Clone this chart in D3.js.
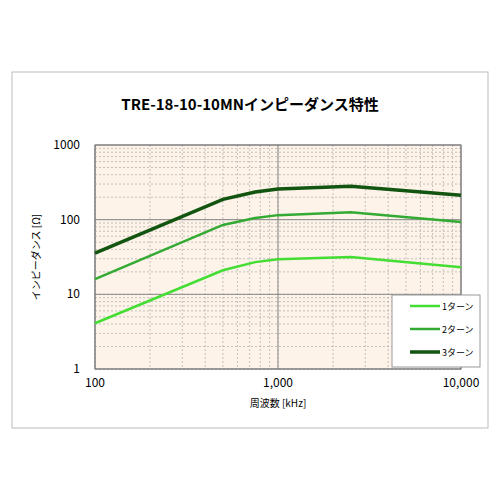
<!doctype html>
<html>
<head>
<meta charset="utf-8">
<script src="https://cdn.jsdelivr.net/npm/d3@7"></script>
<style>
  body { margin: 0; background: #fff; font-family: "Noto Sans CJK JP", "Noto Sans", sans-serif; }
</style>
</head>
<body>
<svg id="chart" width="500" height="500"></svg>
<script>
var freqs = [100, 500, 750, 1000, 2500, 10000];
var turn1 = [4.1, 21, 27, 29.5, 31.6, 23];
var turn2 = [16, 85, 105, 115, 126, 93];
var turn3 = [35.6, 187, 235, 257, 280, 213];
var seriesNames = ["1ターン", "2ターン", "3ターン"];
var seriesColors = ["#44dd33", "#33aa33", "#115511"];
var seriesWidths = [2.5, 2.5, 3.5];
var xTicks = [100, 1000, 10000];
var yTicks = [1, 10, 100, 1000];

var svg = d3.select("#chart");
svg.append("rect").attr("x", 12).attr("y", 72).attr("width", 476).attr("height", 356)
  .attr("fill", "#fff").attr("stroke", "#bbb");

var x = d3.scaleLog().domain([100, 10000]).range([95, 461]);
var y = d3.scaleLog().domain([1, 1000]).range([369, 145]);

svg.append("rect").attr("x", 95).attr("y", 145).attr("width", 366).attr("height", 224)
  .attr("fill", "#fdf3e8");

// minor grid
var g = svg.append("g");
function minors(lo, hi) {
  var out = [];
  for (var d = lo; d < hi; d *= 10)
    for (var k = 1; k < 10; k++) out.push(d * k);
  return out;
}
minors(100, 10000).forEach(function(v) {
  g.append("line").attr("x1", x(v)).attr("x2", x(v)).attr("y1", 145).attr("y2", 369)
    .attr("stroke", "#aaa").attr("stroke-width", 0.7).attr("stroke-dasharray", "2,2");
});
minors(1, 1000).forEach(function(v) {
  for (var j = 1; j < 10; j += 1) {
    var vv = v + v * 0.1 * 0; // minor per integer step
  }
  g.append("line").attr("x1", 95).attr("x2", 461).attr("y1", y(v)).attr("y2", y(v))
    .attr("stroke", "#aaa").attr("stroke-width", 0.7).attr("stroke-dasharray", "2,2");
});
// major grid
xTicks.forEach(function(v) {
  g.append("line").attr("x1", x(v)).attr("x2", x(v)).attr("y1", 145).attr("y2", 369)
    .attr("stroke", "#888").attr("stroke-width", 1);
});
yTicks.forEach(function(v) {
  g.append("line").attr("x1", 95).attr("x2", 461).attr("y1", y(v)).attr("y2", y(v))
    .attr("stroke", "#888").attr("stroke-width", 1);
});
svg.append("rect").attr("x", 95).attr("y", 145).attr("width", 366).attr("height", 224)
  .attr("fill", "none").attr("stroke", "#777");

// axes labels
svg.append("g").selectAll("text").data(xTicks).join("text")
  .attr("x", function(d) { return x(d); }).attr("y", 387).attr("text-anchor", "middle")
  .attr("font-size", 12).text(function(d) { return d3.format(",")(d); });
svg.append("g").selectAll("text").data(yTicks).join("text")
  .attr("x", 80).attr("y", function(d) { return y(d) + 4; }).attr("text-anchor", "end")
  .attr("font-size", 12).text(function(d) { return d; });

svg.append("text").attr("x", 250).attr("y", 110).attr("text-anchor", "middle")
  .attr("font-size", 15).attr("font-weight", "bold").text("TRE-18-10-10MNインピーダンス特性");
svg.append("text").attr("x", 278).attr("y", 407).attr("text-anchor", "middle")
  .attr("font-size", 10).text("周波数 [kHz]");
svg.append("text").attr("transform", "translate(40,257) rotate(-90)").attr("text-anchor", "middle")
  .attr("font-size", 10).text("インピーダンス [Ω]");

var line = d3.line().x(function(d) { return x(d[0]); }).y(function(d) { return y(d[1]); });
[turn1, turn2, turn3].forEach(function(s, i) {
  svg.append("path").datum(freqs.map(function(f, j) { return [f, s[j]]; }))
    .attr("d", line).attr("fill", "none")
    .attr("stroke", seriesColors[i]).attr("stroke-width", seriesWidths[i]);
});

// legend
var lg = svg.append("g");
lg.append("rect").attr("x", 392).attr("y", 295).attr("width", 88).attr("height", 72)
  .attr("fill", "#fff").attr("stroke", "#999");
seriesNames.forEach(function(n, i) {
  var yy = 306 + i * 23;
  lg.append("line").attr("x1", 410).attr("x2", 440).attr("y1", yy).attr("y2", yy)
    .attr("stroke", seriesColors[i]).attr("stroke-width", seriesWidths[i]);
  lg.append("text").attr("x", 442).attr("y", yy + 3.5).attr("font-size", 9).text(n);
});
</script>
</body>
</html>
